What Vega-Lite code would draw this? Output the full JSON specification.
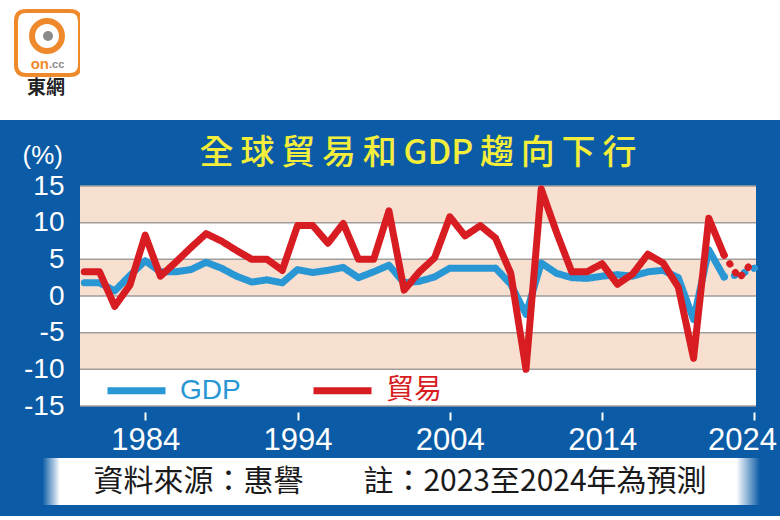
{
  "$schema": "https://vega.github.io/schema/vega-lite/v6.json",
  "background": "#0b5ba6",
  "padding": 0,
  "columns": 2,
  "spacing": 0,
  "bounds": "flush",
  "align": "each",
  "config": {"view": {"stroke": null}},
  "datasets": {
    "blank": [{}],
    "bands": [{"from": 10, "to": 15}, {"from": 0, "to": 5}, {"from": -10, "to": -5}],
    "gridlines": [{"v": -15}, {"v": -10}, {"v": -5}, {"v": 0}, {"v": 5}, {"v": 10}, {"v": 15}],
    "series": [
      {"year": 1980, "series": "GDP", "phase": "actual", "value": 1.8},
      {"year": 1981, "series": "GDP", "phase": "actual", "value": 1.8},
      {"year": 1982, "series": "GDP", "phase": "actual", "value": 0.7},
      {"year": 1983, "series": "GDP", "phase": "actual", "value": 2.8},
      {"year": 1984, "series": "GDP", "phase": "actual", "value": 4.8},
      {"year": 1985, "series": "GDP", "phase": "actual", "value": 3.3},
      {"year": 1986, "series": "GDP", "phase": "actual", "value": 3.3},
      {"year": 1987, "series": "GDP", "phase": "actual", "value": 3.6},
      {"year": 1988, "series": "GDP", "phase": "actual", "value": 4.6},
      {"year": 1989, "series": "GDP", "phase": "actual", "value": 3.8},
      {"year": 1990, "series": "GDP", "phase": "actual", "value": 2.7},
      {"year": 1991, "series": "GDP", "phase": "actual", "value": 1.9},
      {"year": 1992, "series": "GDP", "phase": "actual", "value": 2.2},
      {"year": 1993, "series": "GDP", "phase": "actual", "value": 1.8},
      {"year": 1994, "series": "GDP", "phase": "actual", "value": 3.6},
      {"year": 1995, "series": "GDP", "phase": "actual", "value": 3.2},
      {"year": 1996, "series": "GDP", "phase": "actual", "value": 3.5},
      {"year": 1997, "series": "GDP", "phase": "actual", "value": 3.9},
      {"year": 1998, "series": "GDP", "phase": "actual", "value": 2.5},
      {"year": 1999, "series": "GDP", "phase": "actual", "value": 3.3},
      {"year": 2000, "series": "GDP", "phase": "actual", "value": 4.2},
      {"year": 2001, "series": "GDP", "phase": "actual", "value": 1.8},
      {"year": 2002, "series": "GDP", "phase": "actual", "value": 2.0},
      {"year": 2003, "series": "GDP", "phase": "actual", "value": 2.6},
      {"year": 2004, "series": "GDP", "phase": "actual", "value": 3.8},
      {"year": 2005, "series": "GDP", "phase": "actual", "value": 3.8},
      {"year": 2006, "series": "GDP", "phase": "actual", "value": 3.8},
      {"year": 2007, "series": "GDP", "phase": "actual", "value": 3.8},
      {"year": 2008, "series": "GDP", "phase": "actual", "value": 1.6},
      {"year": 2009, "series": "GDP", "phase": "actual", "value": -2.5},
      {"year": 2010, "series": "GDP", "phase": "actual", "value": 4.5},
      {"year": 2011, "series": "GDP", "phase": "actual", "value": 3.1},
      {"year": 2012, "series": "GDP", "phase": "actual", "value": 2.5},
      {"year": 2013, "series": "GDP", "phase": "actual", "value": 2.4},
      {"year": 2014, "series": "GDP", "phase": "actual", "value": 2.7},
      {"year": 2015, "series": "GDP", "phase": "actual", "value": 2.9},
      {"year": 2016, "series": "GDP", "phase": "actual", "value": 2.7},
      {"year": 2017, "series": "GDP", "phase": "actual", "value": 3.3},
      {"year": 2018, "series": "GDP", "phase": "actual", "value": 3.5},
      {"year": 2019, "series": "GDP", "phase": "actual", "value": 2.5},
      {"year": 2020, "series": "GDP", "phase": "actual", "value": -3.2},
      {"year": 2021, "series": "GDP", "phase": "actual", "value": 6.3},
      {"year": 2022, "series": "GDP", "phase": "actual", "value": 2.6},
      {"year": 2022, "series": "GDP", "phase": "forecast", "value": 2.6},
      {"year": 2023, "series": "GDP", "phase": "forecast", "value": 2.9},
      {"year": 2024, "series": "GDP", "phase": "forecast", "value": 3.8},
      {"year": 1980, "series": "貿易", "phase": "actual", "value": 3.3},
      {"year": 1981, "series": "貿易", "phase": "actual", "value": 3.3},
      {"year": 1982, "series": "貿易", "phase": "actual", "value": -1.4},
      {"year": 1983, "series": "貿易", "phase": "actual", "value": 1.5},
      {"year": 1984, "series": "貿易", "phase": "actual", "value": 8.3},
      {"year": 1985, "series": "貿易", "phase": "actual", "value": 2.7},
      {"year": 1986, "series": "貿易", "phase": "actual", "value": 4.6},
      {"year": 1987, "series": "貿易", "phase": "actual", "value": 6.6},
      {"year": 1988, "series": "貿易", "phase": "actual", "value": 8.5},
      {"year": 1989, "series": "貿易", "phase": "actual", "value": 7.5},
      {"year": 1990, "series": "貿易", "phase": "actual", "value": 6.2},
      {"year": 1991, "series": "貿易", "phase": "actual", "value": 5.0},
      {"year": 1992, "series": "貿易", "phase": "actual", "value": 5.0},
      {"year": 1993, "series": "貿易", "phase": "actual", "value": 3.5},
      {"year": 1994, "series": "貿易", "phase": "actual", "value": 9.6},
      {"year": 1995, "series": "貿易", "phase": "actual", "value": 9.6},
      {"year": 1996, "series": "貿易", "phase": "actual", "value": 7.2},
      {"year": 1997, "series": "貿易", "phase": "actual", "value": 9.9},
      {"year": 1998, "series": "貿易", "phase": "actual", "value": 5.0},
      {"year": 1999, "series": "貿易", "phase": "actual", "value": 5.0},
      {"year": 2000, "series": "貿易", "phase": "actual", "value": 11.6},
      {"year": 2001, "series": "貿易", "phase": "actual", "value": 0.8},
      {"year": 2002, "series": "貿易", "phase": "actual", "value": 3.3},
      {"year": 2003, "series": "貿易", "phase": "actual", "value": 5.2},
      {"year": 2004, "series": "貿易", "phase": "actual", "value": 10.8},
      {"year": 2005, "series": "貿易", "phase": "actual", "value": 8.2},
      {"year": 2006, "series": "貿易", "phase": "actual", "value": 9.6},
      {"year": 2007, "series": "貿易", "phase": "actual", "value": 7.9},
      {"year": 2008, "series": "貿易", "phase": "actual", "value": 3.1},
      {"year": 2009, "series": "貿易", "phase": "actual", "value": -10.0},
      {"year": 2010, "series": "貿易", "phase": "actual", "value": 14.6},
      {"year": 2011, "series": "貿易", "phase": "actual", "value": 8.7},
      {"year": 2012, "series": "貿易", "phase": "actual", "value": 3.3},
      {"year": 2013, "series": "貿易", "phase": "actual", "value": 3.3},
      {"year": 2014, "series": "貿易", "phase": "actual", "value": 4.4},
      {"year": 2015, "series": "貿易", "phase": "actual", "value": 1.6},
      {"year": 2016, "series": "貿易", "phase": "actual", "value": 3.0},
      {"year": 2017, "series": "貿易", "phase": "actual", "value": 5.7},
      {"year": 2018, "series": "貿易", "phase": "actual", "value": 4.5},
      {"year": 2019, "series": "貿易", "phase": "actual", "value": 1.2},
      {"year": 2020, "series": "貿易", "phase": "actual", "value": -8.5},
      {"year": 2021, "series": "貿易", "phase": "actual", "value": 10.6},
      {"year": 2022, "series": "貿易", "phase": "actual", "value": 5.6},
      {"year": 2022, "series": "貿易", "phase": "forecast", "value": 5.6},
      {"year": 2023, "series": "貿易", "phase": "forecast", "value": 2.4},
      {"year": 2024, "series": "貿易", "phase": "forecast", "value": 5.0}
    ]
  },
  "concat": [
    {
      "data": {"name": "blank"},
      "width": 80,
      "height": 120,
      "view": {"fill": "white"},
      "layer": [
        {"mark": {"type": "point", "shape": "M-0.69,-1H0.69Q1,-1 1,-0.69V0.69Q1,1 0.69,1H-0.69Q-1,1 -1,0.69V-0.69Q-1,-1 -0.69,-1Z", "size": 4096, "filled": true, "fill": "white", "stroke": "#ef8a2c", "strokeWidth": 4, "opacity": 1, "xOffset": 8, "yOffset": -17}},
        {"mark": {"type": "point", "shape": "circle", "size": 900, "filled": false, "stroke": "#ef8a2c", "strokeWidth": 6, "opacity": 1, "xOffset": 7, "yOffset": -24}},
        {"mark": {"type": "point", "shape": "circle", "size": 100, "filled": true, "fill": "#8a8a8a", "opacity": 1, "xOffset": 8, "yOffset": -24}},
        {"mark": {"type": "text", "text": "on", "font": "Liberation Sans", "fontSize": 15, "fontWeight": "bold", "color": "#ef8a2c", "align": "right", "dx": 9, "dy": 4}},
        {"mark": {"type": "text", "text": ".cc", "font": "Liberation Sans", "fontSize": 11, "fontWeight": "bold", "color": "#8a8a8a", "align": "left", "dx": 9, "dy": 5}},
        {"mark": {"type": "text", "text": "東網", "font": "Noto Sans CJK TC", "fontSize": 19, "fontWeight": "bold", "color": "#222222", "dx": 6, "dy": 28}}
      ]
    },
    {
      "data": {"name": "blank"},
      "width": 700,
      "height": 120,
      "view": {"fill": "white"},
      "mark": {"type": "text", "text": ""}
    },
    {"data": {"name": "blank"}, "width": 80, "height": 66, "mark": {"type": "text", "text": ""}},
    {"data": {"name": "blank"}, "width": 1, "height": 66, "mark": {"type": "text", "text": ""}},
    {"data": {"name": "blank"}, "width": 80, "height": 220, "mark": {"type": "text", "text": ""}},
    {
      "width": 676,
      "height": 220,
      "view": {"fill": "white"},
      "title": {
        "text": "全\u2009球\u2009貿\u2009易\u2009和\u2009GDP\u2009趨\u2009向\u2009下\u2009行",
        "color": "#f3ed3b",
        "fontSize": 34,
        "font": "Noto Sans CJK TC",
        "fontWeight": 500,
        "anchor": "middle",
        "frame": "group",
        "offset": -56,
        "baseline": "alphabetic"
      },
      "layer": [
        {
          "data": {"name": "bands"},
          "mark": {"type": "rect", "color": "#f8e0d0"},
          "encoding": {
            "y": {
              "field": "from", "type": "quantitative",
              "scale": {"domain": [-15, 15], "nice": false, "zero": false},
              "axis": {
                "values": [-15, -10, -5, 0, 5, 10, 15],
                "labelExpr": "'' + datum.value",
                "title": "(%)",
                "titleAngle": 0,
                "titleX": -58,
                "titleY": -31,
                "titleAlign": "left",
                "titleBaseline": "middle",
                "titleColor": "white",
                "titleFontSize": 26,
                "titleFont": "Liberation Sans",
                "titleFontWeight": "normal",
                "domain": false,
                "ticks": false,
                "grid": false,
                "labelColor": "white",
                "labelFontSize": 28,
                "labelFont": "Liberation Sans",
                "labelPadding": 16
              }
            },
            "y2": {"field": "to"}
          }
        },
        {
          "data": {"name": "gridlines"},
          "mark": {"type": "rule", "color": "#a19d9c", "strokeWidth": 1.5},
          "encoding": {
            "y": {
              "field": "v", "type": "quantitative",
              "axis": {
                "values": [-15, -10, -5, 0, 5, 10, 15],
                "labelExpr": "'' + datum.value",
                "title": "(%)",
                "titleAngle": 0,
                "titleX": -58,
                "titleY": -31,
                "titleAlign": "left",
                "titleBaseline": "middle",
                "titleColor": "white",
                "titleFontSize": 26,
                "titleFont": "Liberation Sans",
                "titleFontWeight": "normal",
                "domain": false,
                "ticks": false,
                "grid": false,
                "labelColor": "white",
                "labelFontSize": 28,
                "labelFont": "Liberation Sans",
                "labelPadding": 16
              }
            }
          }
        },
        {
          "data": {"name": "series"},
          "mark": {"type": "line", "strokeWidth": 7, "strokeCap": "round", "strokeJoin": "round"},
          "encoding": {
            "x": {
              "field": "year",
              "type": "quantitative",
              "scale": {"domain": [1979.72, 2024.1], "nice": false, "zero": false},
              "axis": {
                "values": [1984, 1994, 2004, 2014, 2024],
                "format": "d",
                "title": null,
                "domain": false,
                "grid": false,
                "ticks": true,
                "tickColor": "white",
                "tickSize": 8,
                "tickWidth": 2,
                "offset": 6,
                "labelColor": "white",
                "labelFontSize": 31,
                "labelFont": "Liberation Sans",
                "labelPadding": 5,
                "labelFlush": 5,
                "labelFlushOffset": 22
              }
            },
            "y": {
              "field": "value",
              "type": "quantitative",
              "scale": {"domain": [-15, 15], "nice": false, "zero": false},
              "axis": {
                "values": [-15, -10, -5, 0, 5, 10, 15],
                "labelExpr": "'' + datum.value",
                "title": "(%)",
                "titleAngle": 0,
                "titleX": -58,
                "titleY": -31,
                "titleAlign": "left",
                "titleBaseline": "middle",
                "titleColor": "white",
                "titleFontSize": 26,
                "titleFont": "Liberation Sans",
                "titleFontWeight": "normal",
                "domain": false,
                "ticks": false,
                "grid": false,
                "labelColor": "white",
                "labelFontSize": 28,
                "labelFont": "Liberation Sans",
                "labelPadding": 16
              }
            },
            "color": {
              "field": "series",
              "type": "nominal",
              "scale": {"domain": ["GDP", "貿易"], "range": ["#2a97d5", "#d71c22"]},
              "legend": {
                "title": null,
                "orient": "none",
                "legendX": 104,
                "legendY": 358,
                "direction": "horizontal",
                "symbolType": "stroke",
                "symbolStrokeWidth": 7,
                "symbolSize": 3364,
                "labelFontSize": 28,
                "labelFont": "Liberation Sans, Noto Sans CJK TC",
                "labelOffset": 11,
                "columnPadding": 58,
                "padding": 0,
                "encode": {
                  "labels": {"update": {"fill": {"signal": "datum.value === 'GDP' ? '#2a97d5' : '#d71c22'"}}}
                }
              }
            },
            "strokeDash": {
              "field": "phase",
              "type": "nominal",
              "scale": {"domain": ["actual", "forecast"], "range": [[1, 0], [0.5, 10]]},
              "legend": null
            }
          }
        }
      ]
    },
    {"data": {"name": "blank"}, "width": 80, "height": 52, "mark": {"type": "text", "text": ""}},
    {"data": {"name": "blank"}, "width": 1, "height": 52, "mark": {"type": "text", "text": ""}},
    {
      "data": {"name": "blank"},
      "width": 80,
      "height": 47,
      "mark": {
        "type": "rect",
        "fill": {"gradient": "linear", "x1": 0, "x2": 1, "y1": 0, "y2": 0, "stops": [
          {"offset": 0, "color": "#0b5ba6"},
          {"offset": 0.53, "color": "#0b5ba6"},
          {"offset": 0.75, "color": "#ffffff"},
          {"offset": 1, "color": "#ffffff"}
        ]}
      }
    },
    {
      "data": {"name": "blank"},
      "width": 680,
      "height": 47,
      "layer": [
        {
          "mark": {
            "type": "rect",
            "fill": {"gradient": "linear", "x1": 0, "x2": 1, "y1": 0, "y2": 0, "stops": [
              {"offset": 0, "color": "#ffffff"},
              {"offset": 0.965, "color": "#ffffff"},
              {"offset": 1, "color": "#0b5ba6"}
            ]}
          }
        },
        {
          "mark": {"type": "text", "text": "資料來源：惠譽　　註：2023至2024年為預測", "font": "Noto Sans CJK TC", "fontSize": 30, "color": "#1a1a1a", "dx": -20}
        }
      ]
    },
    {"data": {"name": "blank"}, "width": 80, "height": 11, "mark": {"type": "text", "text": ""}},
    {"data": {"name": "blank"}, "width": 1, "height": 11, "mark": {"type": "text", "text": ""}}
  ]
}
